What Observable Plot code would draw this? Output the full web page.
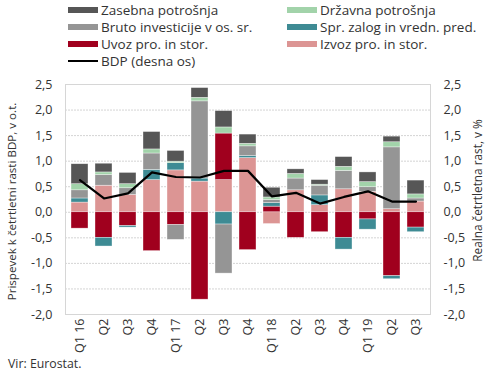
<!DOCTYPE html>
<html>
<head>
<meta charset="utf-8">
<script src="https://cdn.jsdelivr.net/npm/d3@7"></script>
<script src="https://cdn.jsdelivr.net/npm/@observablehq/plot@0.6"></script>
<style>
  body { margin: 0; background: #fff; font-family: "Open Sans", sans-serif; color: #333; }
  #wrap { width: 490px; height: 376px; position: relative; overflow: hidden; }
  #legend { position: relative; width: 490px; height: 70px; font-size: 13.5px; }
  .li { position: absolute; display: flex; align-items: center; height: 17px; white-space: nowrap; }
  .sw { width: 30px; height: 6px; margin-right: 3px; }
  .ln { width: 30px; height: 2px; margin-right: 3px; background: #000; }
  #caption { position: absolute; left: 8px; top: 355px; font-size: 12.3px; line-height: 17px; }
  svg { display: block; }
</style>
</head>
<body>
<div id="wrap">
  <div id="legend"></div>
  <div id="chart"></div>
  <div id="caption">Vir: Eurostat.</div>
</div>
<script>
const periods = ["2016Q1","2016Q2","2016Q3","2016Q4","2017Q1","2017Q2","2017Q3","2017Q4","2018Q1","2018Q2","2018Q3","2018Q4","2019Q1","2019Q2","2019Q3"];
const tickLabels = ["Q1 16","Q2","Q3","Q4","Q1 17","Q2","Q3","Q4","Q1 18","Q2","Q3","Q4","Q1 19","Q2","Q3"];

// Series (stack order from zero outward)
const seriesNames = ["Izvoz pro. in stor.","Uvoz pro. in stor.","Spr. zalog in vredn. pred.","Bruto investicije v os. sr.","Državna potrošnja","Zasebna potrošnja"];
const seriesColors = ["#dc9594","#a0001e","#3e8b94","#959595","#a2d3aa","#565656"];

const izvoz   = [0.19, 0.52, 0.34, 0.63, 0.82, 0.60, 0.63, 1.06, -0.23, 0.43, 0.14, 0.45, 0.40, 0.06, 0.21];
const uvoz    = [-0.32,-0.50,-0.27,-0.76,-0.25,-1.71, 0.91,-0.74, 0.11,-0.50,-0.39,-0.50,-0.14,-1.25,-0.30];
const zaloge  = [0.08,-0.17,-0.03, 0.20, 0.14, 0.06,-0.24, 0.04, 0.07, 0.00, 0.19,-0.23,-0.20,-0.06,-0.09];
const bruto   = [0.16, 0.21, 0.13, 0.32,-0.29, 1.51,-0.96, 0.19, 0.06, 0.23, 0.19, 0.36, 0.09, 1.21, 0.06];
const drzavna = [0.12, 0.05, 0.08, 0.08, 0.03, 0.07, 0.12, 0.05, 0.05, 0.09, 0.02, 0.08, 0.10, 0.10, 0.08];
const zasebna = [0.39, 0.17, 0.22, 0.34, 0.21, 0.19, 0.32, 0.18, 0.19, 0.09, 0.09, 0.19, 0.19, 0.11, 0.27];
const bdp     = [0.63, 0.27, 0.37, 0.78, 0.69, 0.68, 0.81, 0.81, 0.31, 0.38, 0.17, 0.30, 0.41, 0.21, 0.21];

const yTicks = [-2, -1.5, -1, -0.5, 0, 0.5, 1, 1.5, 2, 2.5];
const leftTitle = "Prispevek k četrtletni rasti BDP, v o.t.";
const rightTitle = "Realna četrtletna rast, v %";
const bdpLabel = "BDP (desna os)";

const seriesValues = [izvoz, uvoz, zaloge, bruto, drzavna, zasebna];
const rows = [];
seriesValues.forEach((vals, si) => vals.forEach((v, i) => rows.push({q: periods[i], s: seriesNames[si], v})));
const bdpRows = bdp.map((v, i) => ({q: periods[i], v}));

// Legend (HTML)
const legendItems = [
  {name: "Zasebna potrošnja", x: 68, row: 0},
  {name: "Državna potrošnja", x: 287, row: 0},
  {name: "Bruto investicije v os. sr.", x: 68, row: 1},
  {name: "Spr. zalog in vredn. pred.", x: 287, row: 1},
  {name: "Uvoz pro. in stor.", x: 68, row: 2},
  {name: "Izvoz pro. in stor.", x: 287, row: 2}
];
const legend = document.getElementById("legend");
legendItems.forEach(it => {
  const d = document.createElement("div");
  d.className = "li";
  d.style.left = it.x + "px";
  d.style.top = (1 + it.row * 17.3) + "px";
  const sw = document.createElement("span");
  sw.className = "sw";
  sw.style.background = seriesColors[seriesNames.indexOf(it.name)];
  d.appendChild(sw);
  d.appendChild(document.createTextNode(it.name));
  legend.appendChild(d);
});
{
  const d = document.createElement("div");
  d.className = "li";
  d.style.left = "68px";
  d.style.top = (1 + 3 * 17.3) + "px";
  const ln = document.createElement("span");
  ln.className = "ln";
  d.appendChild(ln);
  d.appendChild(document.createTextNode(bdpLabel));
  legend.appendChild(d);
}

const fmt = d => d.toFixed(1).replace(".", ",");

const chart = Plot.plot({
  width: 490,
  height: 285,
  marginLeft: 65,
  marginRight: 60,
  marginTop: 14,
  marginBottom: 41,
  style: {fontFamily: "Open Sans, sans-serif", fontSize: "12.5px", color: "#333", background: "#fff"},
  x: {domain: periods, paddingInner: 0.3, paddingOuter: 0.165, axis: null},
  y: {domain: [-2, 2.5], axis: null},
  color: {domain: seriesNames, range: seriesColors},
  marks: [
    Plot.gridY(yTicks, {stroke: "#d4d4d4", strokeOpacity: 1, strokeDasharray: "2,1"}),
    Plot.frame({stroke: "#d6d6d6"}),
    Plot.barY(rows, {x: "q", y: "v", fill: "s", stroke: "#fff", strokeWidth: 0.6, strokeOpacity: 0.6}),
    Plot.line(bdpRows, {x: "q", y: "v", stroke: "#000", strokeWidth: 2.2}),
    Plot.axisY(yTicks, {anchor: "left", tickSize: 0, tickPadding: 13, tickFormat: fmt, label: null}),
    Plot.axisY(yTicks, {anchor: "right", tickSize: 0, tickPadding: 13, tickFormat: fmt, label: null}),
    Plot.axisX(periods, {anchor: "bottom", tickSize: 0, tickPadding: 4, tickRotate: -90, tickFormat: d => tickLabels[periods.indexOf(d)], label: null}),
    Plot.text([leftTitle], {frameAnchor: "left", textAnchor: "middle", dx: -53, dy: 2, rotate: -90, fontSize: 11.6, fill: "#333"}),
    Plot.text([rightTitle], {frameAnchor: "right", textAnchor: "middle", dx: 48, dy: -9, rotate: -90, fontSize: 11.8, fill: "#333"})
  ]
});
document.getElementById("chart").appendChild(chart);
</script>
</body>
</html>
